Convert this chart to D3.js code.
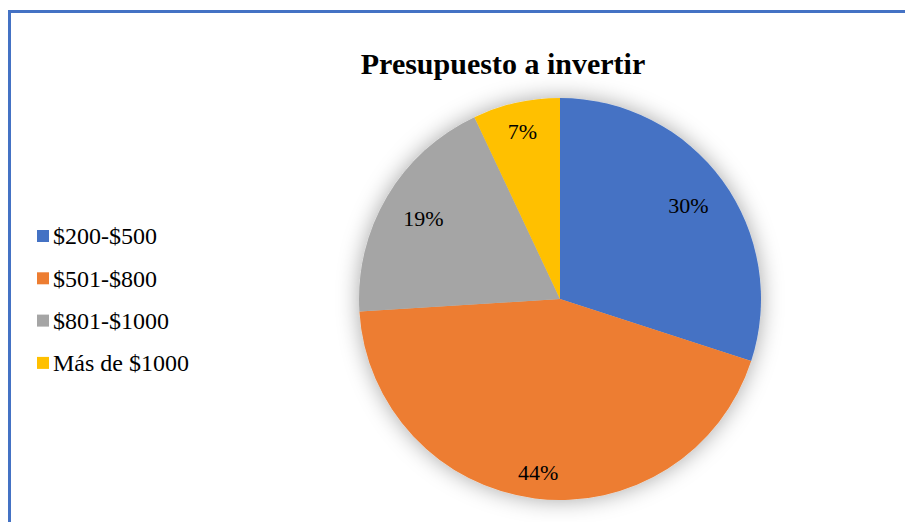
<!DOCTYPE html>
<html lang="es">
<head>
    <meta charset="UTF-8">
    <title>Presupuesto a invertir</title>
    <script src="https://d3js.org/d3.v7.min.js"></script>
    <style>
        body {
            margin: 0;
            background-color: white;
        }
        svg text {
            font-family: 'Liberation Serif', 'Times New Roman', serif;
            fill: #000;
        }
    </style>
</head>
<body>
    <svg id="chart" width="905" height="522"></svg>

    <script>
        // Data
        const categories = ["$200-$500", "$501-$800", "$801-$1000", "Más de $1000"];
        const values = [30, 44, 19, 7];
        const colors = ["#4472C4", "#ED7D31", "#A5A5A5", "#FFC000"];

        const svg = d3.select("#chart");
        const width = +svg.attr("width");
        const height = +svg.attr("height");

        // Frame (only left and top edges are in view)
        svg.append("path")
            .attr("d", `M9.5,${height} L9.5,11.5 L${width},11.5`)
            .attr("fill", "none")
            .attr("stroke", "#4472C4")
            .attr("stroke-width", 3);

        // Title
        svg.append("text")
            .attr("x", 503)
            .attr("y", 74)
            .attr("text-anchor", "middle")
            .style("font-size", "30px")
            .style("font-weight", "bold")
            .text("Presupuesto a invertir");

        // Soft shadow around the pie
        const defs = svg.append("defs");
        const filter = defs.append("filter")
            .attr("id", "glow")
            .attr("x", "-25%").attr("y", "-25%")
            .attr("width", "150%").attr("height", "150%");
        filter.append("feDropShadow")
            .attr("dx", 0).attr("dy", 0)
            .attr("stdDeviation", 11)
            .attr("flood-color", "#000")
            .attr("flood-opacity", 0.35);

        // Pie
        const cx = 560, cy = 299, radius = 201;
        const pie = d3.pie().value(d => d).sort(null);
        const arcs = pie(values);
        const arc = d3.arc().innerRadius(0).outerRadius(radius);

        const g = svg.append("g").attr("transform", `translate(${cx},${cy})`);

        g.append("g")
            .attr("filter", "url(#glow)")
            .selectAll("path")
            .data(arcs)
            .enter()
            .append("path")
            .attr("d", arc)
            .attr("fill", (d, i) => colors[i]);

        // Data labels (Excel best-fit puts them at slightly different distances)
        const labelRadii = [0.79, 0.87, 0.79, 0.855];
        g.selectAll(".label")
            .data(arcs)
            .enter()
            .append("text")
            .attr("class", "label")
            .attr("transform", (d, i) => {
                const r = radius * labelRadii[i];
                const c = d3.arc().innerRadius(r).outerRadius(r).centroid(d);
                return `translate(${c[0]},${c[1]})`;
            })
            .attr("text-anchor", "middle")
            .attr("dy", "0.35em")
            .style("font-size", "22px")
            .text(d => d.data + "%");

        // Legend
        const legend = svg.append("g").attr("transform", "translate(37,236)");
        const rowStep = 42.3;
        const item = legend.selectAll(".item")
            .data(categories)
            .enter()
            .append("g")
            .attr("class", "item")
            .attr("transform", (d, i) => `translate(0,${i * rowStep})`);
        item.append("rect")
            .attr("x", 0)
            .attr("y", -6)
            .attr("width", 12)
            .attr("height", 12)
            .attr("fill", (d, i) => colors[i]);
        item.append("text")
            .attr("x", 16)
            .attr("dy", "0.35em")
            .style("font-size", "24px")
            .text(d => d);
    </script>
</body>
</html>
